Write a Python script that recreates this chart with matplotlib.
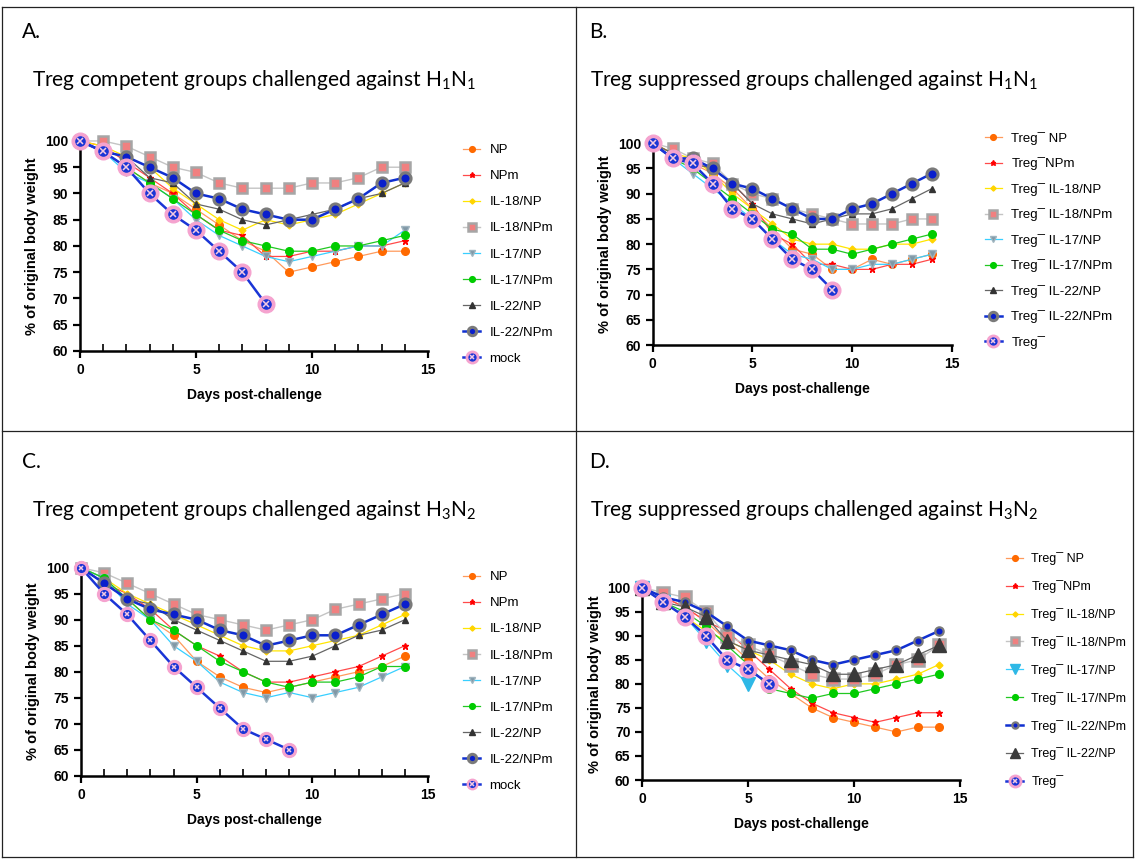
import matplotlib
matplotlib.use('Agg')
import matplotlib.pyplot as plt
from matplotlib.lines import Line2D

plt.rcParams['font.family'] = ['Liberation Sans', 'DejaVu Sans']
plt.rcParams['mathtext.fontset'] = 'custom'
plt.rcParams['mathtext.rm'] = 'Lato'
plt.rcParams['mathtext.it'] = 'Lato:italic'
plt.rcParams['mathtext.bf'] = 'Lato:bold'

days = list(range(15))
groups = ['NP', 'NPm', 'IL-18/NP', 'IL-18/NPm', 'IL-17/NP', 'IL-17/NPm', 'IL-22/NP', 'IL-22/NPm', 'mock']
groups_d = ['NP', 'NPm', 'IL-18/NP', 'IL-18/NPm', 'IL-17/NP', 'IL-17/NPm', 'IL-22/NPm', 'IL-22/NP', 'mock']

# A. Treg competent, H1N1
a_np = [100, 98, 95, 92, 90, 87, 84, 81, 79, 75, 76, 77, 78, 79, 79]
a_npm = [100, 99, 96, 93, 90, 86, 83, 82, 78, 78, 79, 79, 80, 80, 81]
a_il18_np = [100, 99, 97, 95, 91, 88, 85, 83, 85, 84, 85, 86, 88, 90, 92]
a_il18_npm = [100, 100, 99, 97, 95, 94, 92, 91, 91, 91, 92, 92, 93, 95, 95]
a_il17_np = [100, 98, 94, 92, 89, 85, 82, 80, 78, 77, 78, 79, 80, 80, 83]
a_il17_npm = [100, 98, 95, 92, 89, 86, 83, 81, 80, 79, 79, 80, 80, 81, 82]
a_il22_np = [100, 98, 97, 93, 92, 88, 87, 85, 84, 85, 86, 87, 89, 90, 92]
a_il22_npm = [100, 98, 97, 95, 93, 90, 89, 87, 86, 85, 85, 87, 89, 92, 93]
a_mock = [100, 98, 95, 90, 86, 83, 79, 75, 69]

# B. Treg suppressed, H1N1
b_np = [100, 98, 96, 94, 91, 87, 83, 79, 78, 75, 75, 77, 76, 77, 78]
b_npm = [100, 98, 96, 95, 92, 88, 82, 80, 76, 76, 75, 75, 76, 76, 77]
b_il18_np = [100, 98, 97, 94, 90, 87, 84, 81, 80, 80, 79, 79, 80, 80, 81]
b_il18_npm = [100, 99, 97, 96, 92, 90, 89, 87, 86, 85, 84, 84, 84, 85, 85]
b_il17_np = [100, 97, 94, 91, 88, 85, 81, 78, 77, 75, 75, 76, 76, 77, 78]
b_il17_npm = [100, 97, 95, 92, 89, 86, 83, 82, 79, 79, 78, 79, 80, 81, 82]
b_il22_np = [100, 98, 96, 95, 92, 88, 86, 85, 84, 85, 86, 86, 87, 89, 91]
b_il22_npm = [100, 97, 97, 95, 92, 91, 89, 87, 85, 85, 87, 88, 90, 92, 94]
b_mock = [100, 97, 96, 92, 87, 85, 81, 77, 75, 71]

# C. Treg competent, H3N2
c_np = [100, 97, 94, 90, 87, 82, 79, 77, 76, 77, 78, 79, 80, 81, 83]
c_npm = [100, 97, 95, 92, 88, 85, 83, 80, 78, 78, 79, 80, 81, 83, 85]
c_il18_np = [100, 98, 95, 93, 91, 89, 87, 85, 84, 84, 85, 86, 87, 89, 91]
c_il18_npm = [100, 99, 97, 95, 93, 91, 90, 89, 88, 89, 90, 92, 93, 94, 95]
c_il17_np = [100, 98, 93, 90, 85, 82, 78, 76, 75, 76, 75, 76, 77, 79, 81]
c_il17_npm = [100, 98, 94, 90, 88, 85, 82, 80, 78, 77, 78, 78, 79, 81, 81]
c_il22_np = [100, 97, 94, 93, 90, 88, 86, 84, 82, 82, 83, 85, 87, 88, 90]
c_il22_npm = [100, 97, 94, 92, 91, 90, 88, 87, 85, 86, 87, 87, 89, 91, 93]
c_mock = [100, 95, 91, 86, 81, 77, 73, 69, 67, 65]

# D. Treg suppressed, H3N2
d_np = [100, 98, 96, 93, 89, 85, 81, 78, 75, 73, 72, 71, 70, 71, 71]
d_npm = [100, 98, 96, 93, 91, 87, 83, 79, 76, 74, 73, 72, 73, 74, 74]
d_il18_np = [100, 97, 94, 91, 89, 87, 85, 82, 80, 79, 80, 80, 81, 82, 84]
d_il18_npm = [100, 99, 98, 95, 90, 88, 86, 84, 82, 81, 81, 82, 84, 85, 88]
d_il17_np = [100, 97, 94, 89, 84, 80]
d_il17_npm = [100, 97, 95, 92, 88, 84, 79, 78, 77, 78, 78, 79, 80, 81, 82]
d_il22_np = [100, 97, 96, 94, 89, 87, 86, 85, 84, 82, 82, 83, 84, 86, 88]
d_il22_npm = [100, 98, 97, 95, 92, 89, 88, 87, 85, 84, 85, 86, 87, 89, 91]
d_mock = [100, 97, 94, 90, 85, 83, 80]

data_a = dict(zip(groups, [a_np, a_npm, a_il18_np, a_il18_npm, a_il17_np, a_il17_npm, a_il22_np, a_il22_npm, a_mock]))
data_b = dict(zip(groups, [b_np, b_npm, b_il18_np, b_il18_npm, b_il17_np, b_il17_npm, b_il22_np, b_il22_npm, b_mock]))
data_c = dict(zip(groups, [c_np, c_npm, c_il18_np, c_il18_npm, c_il17_np, c_il17_npm, c_il22_np, c_il22_npm, c_mock]))
data_d = dict(zip(groups, [d_np, d_npm, d_il18_np, d_il18_npm, d_il17_np, d_il17_npm, d_il22_np, d_il22_npm, d_mock]))

styles = {
    'NP': dict(color='#ff9a5c', marker='o', ms=5.5, mfc='#ff6a00', mec='#ff6a00', lw=0.9),
    'NPm': dict(color='#ff4a4a', marker='*', ms=5, mfc='#ff0000', mec='#ff0000', lw=0.9),
    'IL-18/NP': dict(color='#ffe600', marker='D', ms=3.5, mfc='#ffd400', mec='#ffd400', lw=0.9),
    'IL-18/NPm': dict(color='#c4c4c4', marker='s', ms=7, mfc='#f08080', mec='#a6a6a6', mew=1.8, lw=1.0),
    'IL-17/NP': dict(color='#38cfff', marker='v', ms=6, mfc='#8098a6', mec='#9fb4bf', lw=0.9),
    'IL-17/NPm': dict(color='#22c822', marker='o', ms=5.5, mfc='#00cc00', mec='#00cc00', lw=0.9),
    'IL-22/NP': dict(color='#666666', marker='^', ms=5, mfc='#333333', mec='#333333', lw=0.9),
    'IL-22/NPm': dict(color='#1030d0', marker='o', ms=8, mfc='#0a1fcc', mec='#7a7a7a', mew=2.2, lw=1.8),
}
d_overrides = {
    'IL-17/NP': dict(marker='v', ms=10, mfc='#2eb8e6', mec='#2eb8e6'),
    'IL-22/NP': dict(marker='^', ms=10, mfc='#3a3a3a', mec='#3a3a3a'),
    'IL-22/NPm': dict(ms=6, mew=1.6),
    'IL-18/NPm': dict(ms=8),
}


def label_for(key, treg):
    if not treg:
        return key
    if key == 'mock':
        return 'Treg\u00af'
    if key == 'NPm':
        return 'Treg\u00afNPm'
    return 'Treg\u00af ' + key


def draw(rect, data, order, treg, leg_anchor, spacing, overrides={}, minor=True,
         leg_size=9.5, mock_ms=12):
    ax = fig.add_axes(rect)
    handles, labels = [], []
    for key in order:
        ys = data[key]
        x = days[:len(ys)]
        if key == 'mock':
            h1, = ax.plot(x, ys, color='#1a35d6', lw=1.8, marker='o', ms=mock_ms,
                          mfc='#f5a3cf', mec='#f5a3cf', clip_on=False, zorder=5)
            h2, = ax.plot(x, ys, ls='none', marker='o', ms=mock_ms * 0.55, mfc='#1a35d6',
                          mec='#1a35d6', clip_on=False, zorder=6)
            h3, = ax.plot(x, ys, ls='none', marker='x', ms=mock_ms * 0.33, mew=1.1,
                          color='#f5c8e2', clip_on=False, zorder=7)
            h = (h1, h2, h3)
        else:
            st = dict(styles[key])
            st.update(overrides.get(key, {}))
            h, = ax.plot(x, ys, clip_on=False, zorder=4, **st)
        handles.append(h)
        labels.append(label_for(key, treg))

    ax.set_xlim(0, 15)
    ax.set_ylim(60, 100)
    ax.set_xticks([0, 5, 10, 15])
    if minor:
        ax.set_xticks(range(16), minor=True)
        ax.tick_params(axis='x', which='minor', direction='in', length=5, width=1.2)
    ax.set_yticks(range(60, 101, 5))
    for s in ['top', 'right']:
        ax.spines[s].set_visible(False)
    for s in ['left', 'bottom']:
        ax.spines[s].set_linewidth(1.8)
    ax.tick_params(which='major', length=5, width=1.6, labelsize=10)
    for t in ax.get_xticklabels() + ax.get_yticklabels():
        t.set_fontweight('bold')
    ax.set_xlabel('Days post-challenge', fontweight='bold', fontsize=10, labelpad=8)
    ax.set_ylabel('% of original body weight', fontweight='bold', fontsize=10.5, labelpad=4)

    fig.legend(handles, labels, loc='upper left', bbox_to_anchor=leg_anchor,
               frameon=False, fontsize=leg_size, labelspacing=spacing, handlelength=1.3,
               handletextpad=0.7, borderpad=0, borderaxespad=0, markerscale=0.75)
    return ax


fig = plt.figure(figsize=(11.36, 8.6), dpi=100)

draw([0.0704, 0.5919, 0.3063, 0.2442], data_a, groups, False, (0.4076, 0.8326), 1.05)
draw([0.5746, 0.5988, 0.2632, 0.2346], data_b, groups, True, (0.867, 0.8465), 0.95, minor=False)
draw([0.0713, 0.0980, 0.3055, 0.2419], data_c, groups, False, (0.4076, 0.336), 1.05, mock_ms=10)
draw([0.5654, 0.0930, 0.2797, 0.2236], data_d, groups_d, True, (0.886, 0.358), 1.2,
     overrides=d_overrides, minor=False, leg_size=9)

# panel letters and titles
tfont = dict(family=['Lato', 'DejaVu Sans'], fontsize=15)
fig.text(0.019, 0.963, 'A.', va='center', **tfont)
fig.text(0.519, 0.963, 'B.', va='center', **tfont)
fig.text(0.019, 0.463, 'C.', va='center', **tfont)
fig.text(0.519, 0.463, 'D.', va='center', **tfont)
fig.text(0.028, 0.907, 'Treg competent groups challenged against H$_1$N$_1$', va='center', **tfont)
fig.text(0.519, 0.907, 'Treg suppressed groups challenged against H$_1$N$_1$', va='center', **tfont)
fig.text(0.028, 0.407, 'Treg competent groups challenged against H$_3$N$_2$', va='center', **tfont)
fig.text(0.519, 0.407, 'Treg suppressed groups challenged against H$_3$N$_2$', va='center', **tfont)

# table-like frame
bc = '#222222'
top, bot, left, right = 1 - 7 / 860, 1 - 857 / 860, 0.002, 0.997
midx, midy = 576 / 1136, 1 - 431 / 860
for xs, ys in [([left, right], [top, top]), ([left, right], [bot, bot]),
               ([left, left], [bot, top]), ([right, right], [bot, top]),
               ([midx, midx], [bot, top]), ([left, right], [midy, midy])]:
    fig.add_artist(Line2D(xs, ys, color=bc, lw=0.9))

fig.savefig('out.png', dpi=100)
